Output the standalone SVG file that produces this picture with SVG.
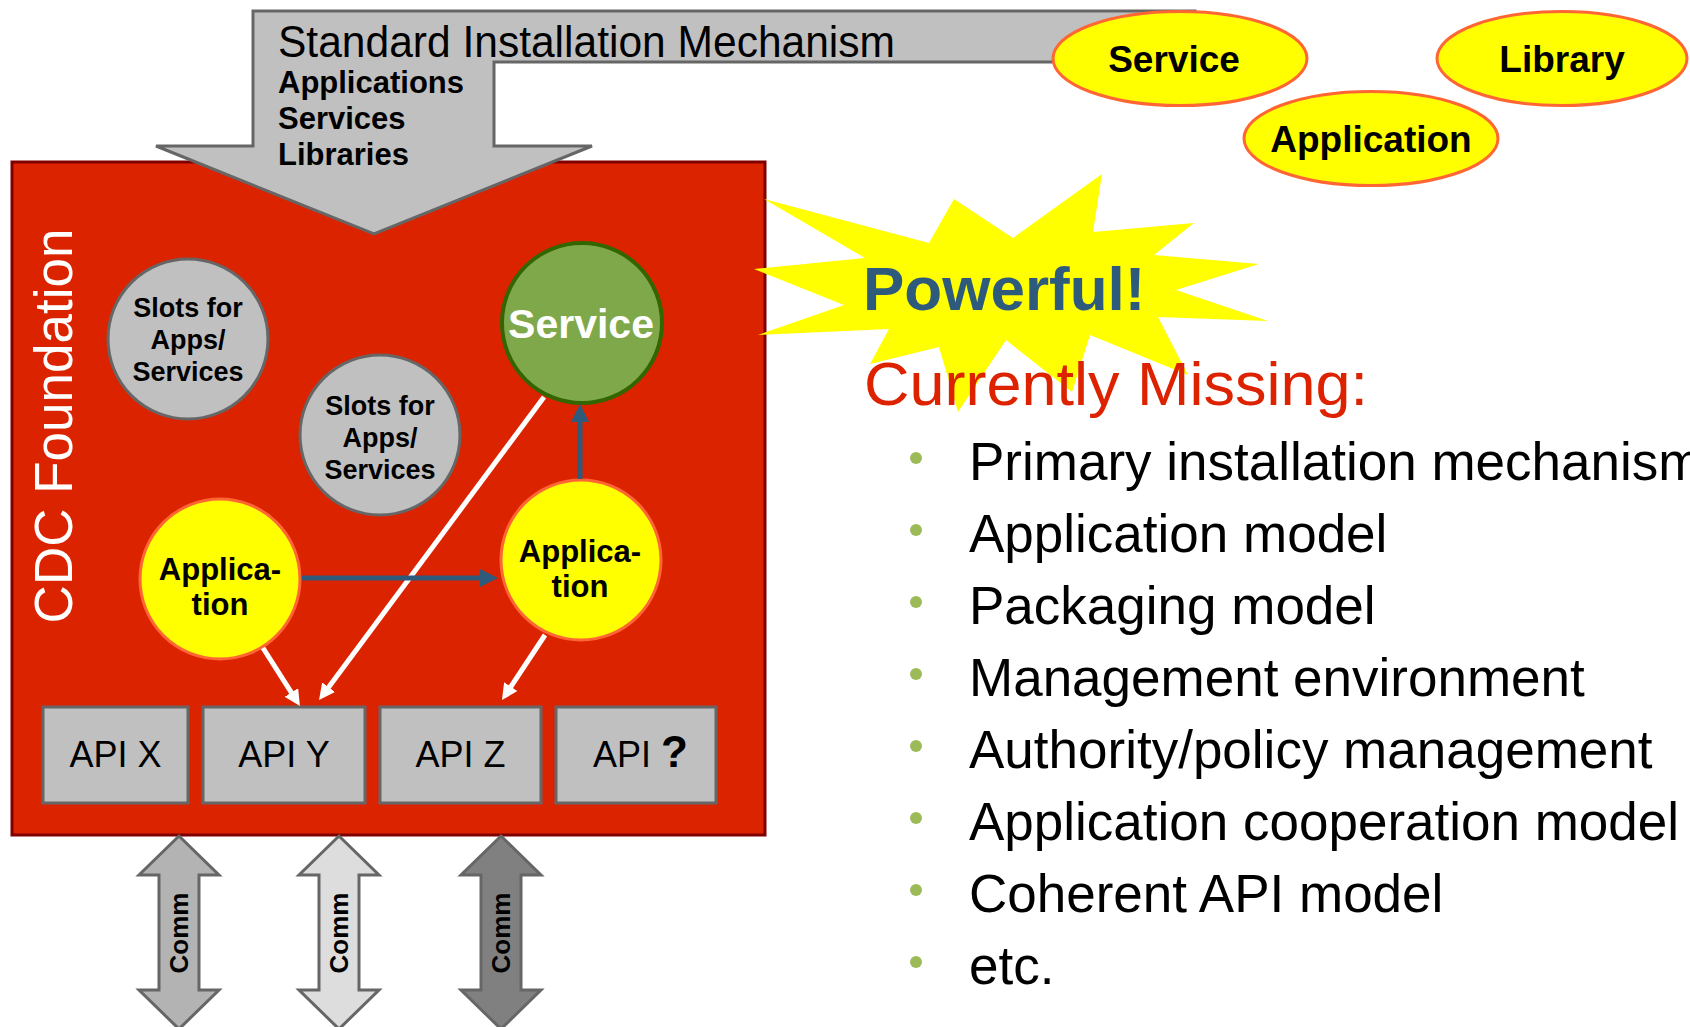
<svg xmlns="http://www.w3.org/2000/svg" width="1690" height="1027" viewBox="0 0 1690 1027">
<defs>
<style>
.sans{font-family:"Liberation Sans",Arial,Helvetica,sans-serif}
.b{font-weight:bold}
.gray{fill:#c0c0c0;stroke:#666666;stroke-width:3}
.yel{fill:#ffff00;stroke:#ff6633;stroke-width:3}
.wl{stroke:#ffffff;stroke-width:5;fill:none;marker-end:url(#wh)}
.bl{stroke:#2e5b7c;stroke-width:5;fill:none;marker-end:url(#bh)}
.bul{fill:#9bbb59}
.item{font-size:53px;fill:#000}
</style>
<marker id="wh" viewBox="0 0 16 16" refX="4" refY="8" markerWidth="16" markerHeight="16" markerUnits="userSpaceOnUse" orient="auto"><path d="M0,0 L16,8 L0,16 Z" fill="#ffffff"/></marker>
<marker id="bh" viewBox="0 0 18 18" refX="4" refY="9" markerWidth="18" markerHeight="18" markerUnits="userSpaceOnUse" orient="auto"><path d="M0,0 L18,9 L0,18 Z" fill="#2e5b7c"/></marker>
</defs>
<rect width="1690" height="1027" fill="#ffffff"/>

<g id="cdc-foundation">
<rect x="12" y="162" width="753" height="673" fill="#dc2300" stroke="#800000" stroke-width="3"/>
<text class="sans" x="0" y="0" transform="translate(72,426) rotate(-90)" text-anchor="middle" font-size="53" fill="#ffffff">CDC Foundation</text>
</g>

<g id="starburst">
<polygon points="764,199 865,258 754,269 844,305 758,335 889,329 870,364 939,347 958,412 1006,340 1072,392 1090,335 1188,375 1158,317 1268,321 1176,290 1259,264 1154,255 1194,223 1093,232 1102,174 1013,238 954,199 929,243" fill="#ffff00"/>
<text class="sans b" x="863" y="310" font-size="62" fill="#2e5b7c">Powerful!</text>
</g>

<g id="install-arrow">
<polygon class="gray" points="253,11 1195,11 1195,62 494,62 494,146 592,146 374,234 156,146 253,146"/>
<text class="sans" x="278" y="57" font-size="44" textLength="617" lengthAdjust="spacingAndGlyphs" fill="#000">Standard Installation Mechanism</text>
<text class="sans b" x="278" y="93" font-size="31" fill="#000">Applications</text>
<text class="sans b" x="278" y="129" font-size="31" fill="#000">Services</text>
<text class="sans b" x="278" y="165" font-size="31" fill="#000">Libraries</text>
</g>

<g id="ext-service">
<ellipse class="yel" cx="1180" cy="58.5" rx="127" ry="47"/>
<text class="sans b" x="1174" y="72" text-anchor="middle" font-size="37">Service</text>
</g>
<g id="ext-library">
<ellipse class="yel" cx="1562" cy="58.5" rx="125" ry="47"/>
<text class="sans b" x="1562" y="72" text-anchor="middle" font-size="37">Library</text>
</g>
<g id="ext-application">
<ellipse class="yel" cx="1371" cy="138.5" rx="127" ry="47"/>
<text class="sans b" x="1371" y="152" text-anchor="middle" font-size="37">Application</text>
</g>

<g id="slot-1">
<circle class="gray" cx="188" cy="339" r="80"/>
<text class="sans b" text-anchor="middle" font-size="27"><tspan x="188" y="317">Slots for</tspan><tspan x="188" y="349">Apps/</tspan><tspan x="188" y="381">Services</tspan></text>
</g>
<g id="slot-2">
<circle class="gray" cx="380" cy="435" r="80"/>
<text class="sans b" text-anchor="middle" font-size="27"><tspan x="380" y="415">Slots for</tspan><tspan x="380" y="447">Apps/</tspan><tspan x="380" y="479">Services</tspan></text>
</g>
<g id="service-node">
<circle cx="582" cy="323" r="80" fill="#7fa84b" stroke="#336600" stroke-width="4"/>
<text class="sans b" x="581" y="338" text-anchor="middle" font-size="41" fill="#ffffff">Service</text>
</g>
<g id="app-left">
<circle class="yel" cx="220" cy="579" r="80"/>
<text class="sans b" text-anchor="middle" font-size="31"><tspan x="220" y="580">Applica-</tspan><tspan x="220" y="615">tion</tspan></text>
</g>
<g id="app-right">
<circle class="yel" cx="581" cy="560" r="80"/>
<text class="sans b" text-anchor="middle" font-size="31"><tspan x="580" y="562">Applica-</tspan><tspan x="580" y="597">tion</tspan></text>
</g>

<g id="api-x">
<rect class="gray" x="43" y="707" width="145" height="96"/>
<text class="sans" x="115.5" y="767" text-anchor="middle" font-size="36">API X</text>
</g>
<g id="api-y">
<rect class="gray" x="203" y="707" width="162" height="96"/>
<text class="sans" x="284" y="767" text-anchor="middle" font-size="36">API Y</text>
</g>
<g id="api-z">
<rect class="gray" x="380" y="707" width="161" height="96"/>
<text class="sans" x="460.5" y="767" text-anchor="middle" font-size="36">API Z</text>
</g>
<g id="api-q">
<rect class="gray" x="556" y="707" width="160" height="96"/>
<text class="sans" x="593" y="767" font-size="36">API <tspan class="b" font-size="44">?</tspan></text>
</g>

<g id="connectors">
<line class="wl" x1="263" y1="648" x2="293.5" y2="695.9"/>
<line class="wl" x1="544" y1="397" x2="326.2" y2="690.4"/>
<line class="wl" x1="545" y1="635" x2="508.6" y2="690"/>
<line class="bl" x1="302" y1="578" x2="484" y2="578"/>
<line class="bl" x1="580" y1="479" x2="580" y2="418"/>
</g>

<g id="comm-1">
<polygon points="179,836 219,875 199,875 199,990 219,990 179,1029 139,990 159,990 159,875 139,875" fill="#b3b3b3" stroke="#666666" stroke-width="3"/>
<text class="sans b" transform="translate(188,933) rotate(-90)" text-anchor="middle" font-size="26">Comm</text>
</g>
<g id="comm-2">
<polygon points="339,836 379,875 359,875 359,990 379,990 339,1029 299,990 319,990 319,875 299,875" fill="#dddddd" stroke="#666666" stroke-width="3"/>
<text class="sans b" transform="translate(348,933) rotate(-90)" text-anchor="middle" font-size="26">Comm</text>
</g>
<g id="comm-3">
<polygon points="501,836 541,875 521,875 521,990 541,990 501,1029 461,990 481,990 481,875 461,875" fill="#808080" stroke="#666666" stroke-width="3"/>
<text class="sans b" transform="translate(510,933) rotate(-90)" text-anchor="middle" font-size="26">Comm</text>
</g>

<g id="missing-list">
<text class="sans" x="864" y="405" font-size="62" textLength="504" lengthAdjust="spacingAndGlyphs" fill="#dd2200">Currently Missing:</text>
<circle class="bul" cx="916" cy="458" r="6"/>
<text class="sans item" x="969" y="480">Primary installation mechanism</text>
<circle class="bul" cx="916" cy="530" r="6"/>
<text class="sans item" x="969" y="552">Application model</text>
<circle class="bul" cx="916" cy="602" r="6"/>
<text class="sans item" x="969" y="624">Packaging model</text>
<circle class="bul" cx="916" cy="674" r="6"/>
<text class="sans item" x="969" y="696">Management environment</text>
<circle class="bul" cx="916" cy="746" r="6"/>
<text class="sans item" x="969" y="768">Authority/policy management</text>
<circle class="bul" cx="916" cy="818" r="6"/>
<text class="sans item" x="969" y="840">Application cooperation model</text>
<circle class="bul" cx="916" cy="890" r="6"/>
<text class="sans item" x="969" y="912">Coherent API model</text>
<circle class="bul" cx="916" cy="962" r="6"/>
<text class="sans item" x="969" y="984">etc.</text>
</g>
</svg>
